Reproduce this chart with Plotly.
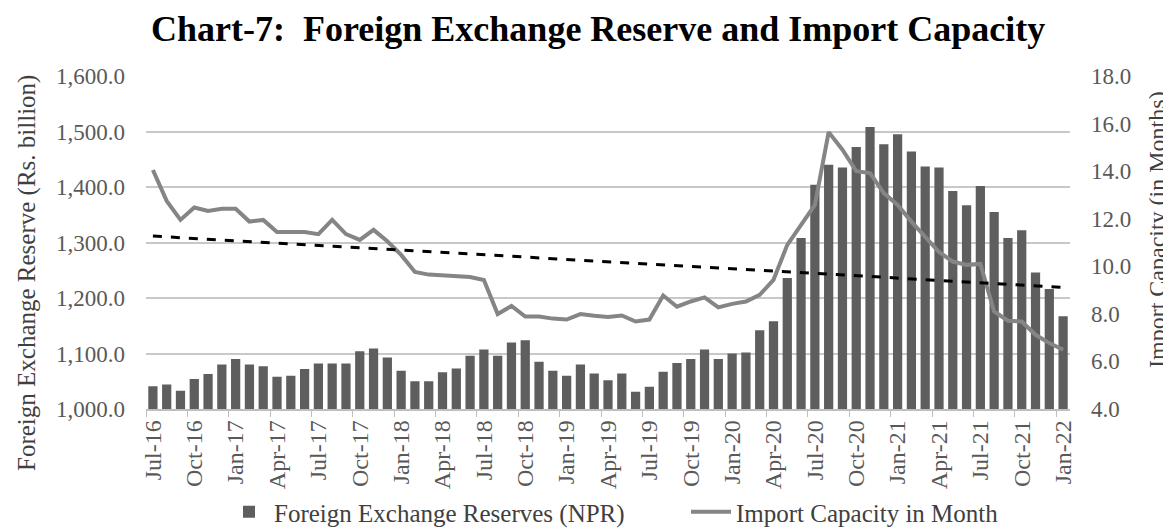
import numpy as np
import plotly.graph_objects as go

months = ["Jul-16","Aug-16","Sep-16","Oct-16","Nov-16","Dec-16",
          "Jan-17","Feb-17","Mar-17","Apr-17","May-17","Jun-17","Jul-17","Aug-17","Sep-17","Oct-17","Nov-17","Dec-17",
          "Jan-18","Feb-18","Mar-18","Apr-18","May-18","Jun-18","Jul-18","Aug-18","Sep-18","Oct-18","Nov-18","Dec-18",
          "Jan-19","Feb-19","Mar-19","Apr-19","May-19","Jun-19","Jul-19","Aug-19","Sep-19","Oct-19","Nov-19","Dec-19",
          "Jan-20","Feb-20","Mar-20","Apr-20","May-20","Jun-20","Jul-20","Aug-20","Sep-20","Oct-20","Nov-20","Dec-20",
          "Jan-21","Feb-21","Mar-21","Apr-21","May-21","Jun-21","Jul-21","Aug-21","Sep-21","Oct-21","Nov-21","Dec-21",
          "Jan-22"]

reserves = [1041,1044,1033,1054,1063,1080,
            1090,1080,1077,1058,1060,1072,1082,1082,1082,1104,1109,1093,
            1069,1050,1050,1066,1073,1096,1107,1096,1120,1124,1085,1069,
            1060,1080,1064,1052,1064,1031,1040,1067,1083,1090,1107,1090,
            1100,1102,1142,1158,1236,1308,1404,1440,1435,1472,1508,1477,
            1495,1464,1437,1435,1393,1367,1402,1355,1308,1322,1246,1216,
            1167]

import_capacity = [14.05,12.75,11.95,12.47,12.33,12.42,
                   12.42,11.88,11.95,11.44,11.44,11.44,11.35,11.95,11.35,11.11,11.53,11.05,
                   10.48,9.76,9.65,9.62,9.58,9.55,9.42,7.99,8.33,7.89,7.89,7.80,
                   7.76,7.99,7.92,7.87,7.93,7.68,7.76,8.77,8.30,8.52,8.69,8.27,
                   8.42,8.52,8.80,9.43,10.90,11.74,12.58,15.64,14.90,14.00,13.92,13.08,
                   12.58,11.88,11.25,10.60,10.20,10.06,10.10,8.10,7.71,7.68,7.12,6.77,
                   6.49]

# Linear trendline of import capacity (as the spreadsheet's trendline)
idx = np.arange(len(import_capacity))
slope, intercept = np.polyfit(idx, import_capacity, 1)
trend = list(slope * idx + intercept)

font_family = "Liberation Serif, Times New Roman, serif"
W, H = 1171, 530
ML, MR, MT, MB = 138, 109, 68, 129
PW, PH = W - ML - MR, H - MT - MB

fig = go.Figure()
fig.add_trace(go.Bar(x=months, y=reserves, name="Foreign Exchange Reserves (NPR)",
                     marker=dict(color="#5e5e5e", line=dict(width=0)), yaxis="y",
                     legend="legend"))
fig.add_trace(go.Scatter(x=months, y=import_capacity, name="Import Capacity in Month",
                         mode="lines", line=dict(color="#858585", width=4), yaxis="y2",
                         legend="legend2"))
fig.add_trace(go.Scatter(x=months, y=trend, name="Trend", showlegend=False,
                         mode="lines", line=dict(color="black", width=3, dash="dash"), yaxis="y2"))

legend_common = dict(orientation="h", xref="container", yref="container",
                     xanchor="left", y=1 - 504 / H, yanchor="middle",
                     font=dict(family=font_family, size=25, color="#404040"),
                     itemwidth=40, bgcolor="rgba(0,0,0,0)")

fig.update_layout(
    width=W, height=H,
    margin=dict(l=ML, r=MR, t=MT, b=MB, autoexpand=False),
    paper_bgcolor="white", plot_bgcolor="white",
    font=dict(family=font_family, size=23, color="#595959"),
    title=dict(text="<b>Chart-7:&nbsp; Foreign Exchange Reserve and Import Capacity</b>",
               x=0.504, xanchor="center", xref="container", yref="container",
               y=0.985, yanchor="top",
               font=dict(family=font_family, size=36, color="black")),
    bargap=0.33,
    showlegend=True,
    legend=dict(legend_common, x=216 / W),
    legend2=dict(legend_common, x=678 / W),
    xaxis=dict(type="category", range=[-0.5, len(months) - 0.5], automargin=False,
               tickmode="linear", tick0=0, dtick=3, tickangle=-90,
               tickson="boundaries", ticks="outside", ticklen=6, tickcolor="#bfbfbf",
               showline=True, linecolor="#bfbfbf", linewidth=1.5,
               showgrid=False, tickfont=dict(size=24, color="#595959")),
    yaxis=dict(range=[1000, 1600], dtick=100, tickformat=",.1f", automargin=False,
               showgrid=True, gridcolor="#c8c8c8", gridwidth=1.8, zeroline=False,
               ticklabelstandoff=20, tickfont=dict(size=23)),
    yaxis2=dict(range=[4, 18], dtick=2, tickformat=".1f", overlaying="y", side="right",
                automargin=False,
                showgrid=False, zeroline=False, ticklabelstandoff=20, tickfont=dict(size=23)),
    annotations=[
        dict(text="Foreign Exchange Reserve (Rs. billion)", textangle=-90,
             xref="paper", yref="paper", x=(19 - ML) / PW, y=(MT + PH - 265) / PH,
             xanchor="center", yanchor="middle", showarrow=False,
             font=dict(family=font_family, size=25, color="#404040")),
        dict(text="Import Capacity (in Months)", textangle=-90,
             xref="paper", yref="paper", x=(1149 - ML) / PW, y=(MT + PH - 222) / PH,
             xanchor="center", yanchor="middle", showarrow=False,
             font=dict(family=font_family, size=24, color="#404040")),
    ],
)

fig.write_html("out.html")
